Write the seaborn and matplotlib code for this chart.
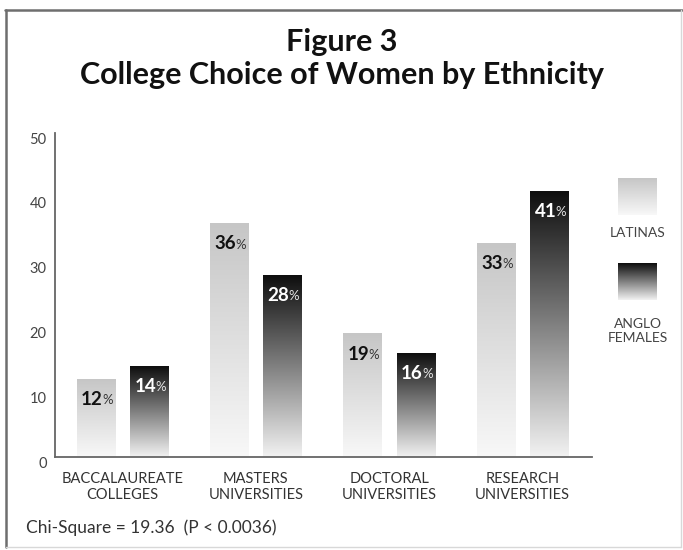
import numpy as np
import pandas as pd
import matplotlib
matplotlib.use("Agg")
import matplotlib.pyplot as plt
import seaborn as sns
from matplotlib.lines import Line2D
from matplotlib.transforms import ScaledTranslation

# ---- data ----
categories = ["BACCALAUREATE\nCOLLEGES", "MASTERS\nUNIVERSITIES",
              "DOCTORAL\nUNIVERSITIES", "RESEARCH\nUNIVERSITIES"]
series_names = ["LATINAS", "ANGLO FEMALES"]
latinas = [12, 36, 19, 33]
anglo_females = [14, 28, 16, 41]
y_ticks = [0, 10, 20, 30, 40, 50]

sns.set_theme(style="white")
plt.rcParams["font.family"] = ["Lato", "DejaVu Sans"]

df = pd.DataFrame({
    "category": categories * 2,
    "group": [series_names[0]] * 4 + [series_names[1]] * 4,
    "value": latinas + anglo_females,
})

W, H = 683, 550
fig = plt.figure(figsize=(W / 100, H / 100), dpi=100)
ax = fig.add_axes([55 / W, 1 - 457 / H, 537 / W, 324 / H])

sns.barplot(data=df, x="category", y="value", hue="group",
            order=categories, hue_order=series_names,
            palette=["#dddddd", "#333333"], width=0.8, gap=0.284,
            legend=False, ax=ax, errorbar=None)

# vertical gradient fill for each bar
grad = np.linspace(0, 1, 256).reshape(-1, 1)
fills = {0: ("#c6c6c6", "#f8f8f8"), 1: ("#0e0e0e", "#f2f2f2")}
for i, cont in enumerate(ax.containers):
    top_c, bot_c = fills[i]
    cmap = matplotlib.colors.LinearSegmentedColormap.from_list("g%d" % i, [bot_c, top_c])
    for bar in cont:
        x0, w, h = bar.get_x(), bar.get_width(), bar.get_height()
        bar.set_facecolor("none")
        bar.set_edgecolor("none")
        ax.imshow(grad, extent=[x0, x0 + w, 0, h], origin="lower",
                  cmap=cmap, aspect="auto", zorder=2, interpolation="bicubic")

# value labels inside the bars
for i, cont in enumerate(ax.containers):
    num_col = "#111111" if i == 0 else "#ffffff"
    pct_col = "#333333" if i == 0 else "#e6e6e6"
    for bar, v in zip(cont, [latinas, anglo_females][i]):
        cx = bar.get_x() + bar.get_width() / 2
        ax.annotate(f"{v}", xy=(cx, v), xytext=(5, -14.5), textcoords="offset points",
                    ha="right", va="center", fontsize=13.5, fontweight="bold",
                    color=num_col, zorder=5)
        ax.annotate("%", xy=(cx, v), xytext=(4.5, -15), textcoords="offset points",
                    ha="left", va="center", fontsize=9.5,
                    color=pct_col, zorder=5)

ax.set_xlim(-0.506, 3.52)
ax.set_ylim(0, 50)
ax.set_yticks(y_ticks)
ax.set_yticklabels([str(t) for t in y_ticks])
ax.set_xlabel("")
ax.set_ylabel("")
ax.tick_params(axis="y", length=0, pad=6, labelsize=10.5, labelcolor="#444444")
ax.tick_params(axis="x", length=0, pad=11, labelsize=10.5, labelcolor="#333333")
for lab in ax.get_xticklabels():
    lab.set_linespacing(1.15)
for lab in ax.get_yticklabels():
    lab.set_transform(lab.get_transform() + ScaledTranslation(0, -5 / 100, fig.dpi_scale_trans))
sns.despine(ax=ax)
for s in ("left", "bottom"):
    ax.spines[s].set_color("#666666")
    ax.spines[s].set_linewidth(1.3)

# titles
fig.text(0.5, 1 - 42 / H, "Figure 3", ha="center", va="center",
         fontsize=22, fontweight="bold", color="#111111")
fig.text(0.5, 1 - 75 / H, "College Choice of Women by Ethnicity", ha="center", va="center",
         fontsize=22, fontweight="bold", color="#111111")

# legend swatches
for (top_c, bot_c), y_top, y_bot in [(fills[0], 178, 215), (fills[1], 263, 300)]:
    lax = fig.add_axes([618 / W, 1 - y_bot / H, 39 / W, (y_bot - y_top) / H])
    cmap = matplotlib.colors.LinearSegmentedColormap.from_list("lg", [bot_c, top_c])
    lax.imshow(grad, origin="lower", cmap=cmap, aspect="auto", extent=[0, 1, 0, 1])
    lax.axis("off")
fig.text(638 / W, 1 - 233 / H, "LATINAS", ha="center", va="center",
         fontsize=10, color="#444444")
fig.text(638 / W, 1 - 331 / H, "ANGLO\nFEMALES", ha="center", va="center",
         fontsize=10, color="#444444", linespacing=1.15)

# footnote
fig.text(26 / W, 1 - 528 / H, "Chi-Square = 19.36  (P < 0.0036)", ha="left", va="center",
         fontsize=12.5, color="#333333")

# outer frame
fig.add_artist(Line2D([5 / W, 682 / W], [1 - 10 / H, 1 - 10 / H], color="#6e6e6e", lw=1.8))
fig.add_artist(Line2D([6 / W, 6 / W], [1 - 10 / H, 1 - 547 / H], color="#6e6e6e", lw=1.8))
fig.add_artist(Line2D([681 / W, 681 / W], [1 - 10 / H, 1 - 547 / H], color="#d8d8d8", lw=1.0))
fig.add_artist(Line2D([6 / W, 681 / W], [1 - 547 / H, 1 - 547 / H], color="#d8d8d8", lw=1.0))

fig.savefig("out.png", dpi=100)
